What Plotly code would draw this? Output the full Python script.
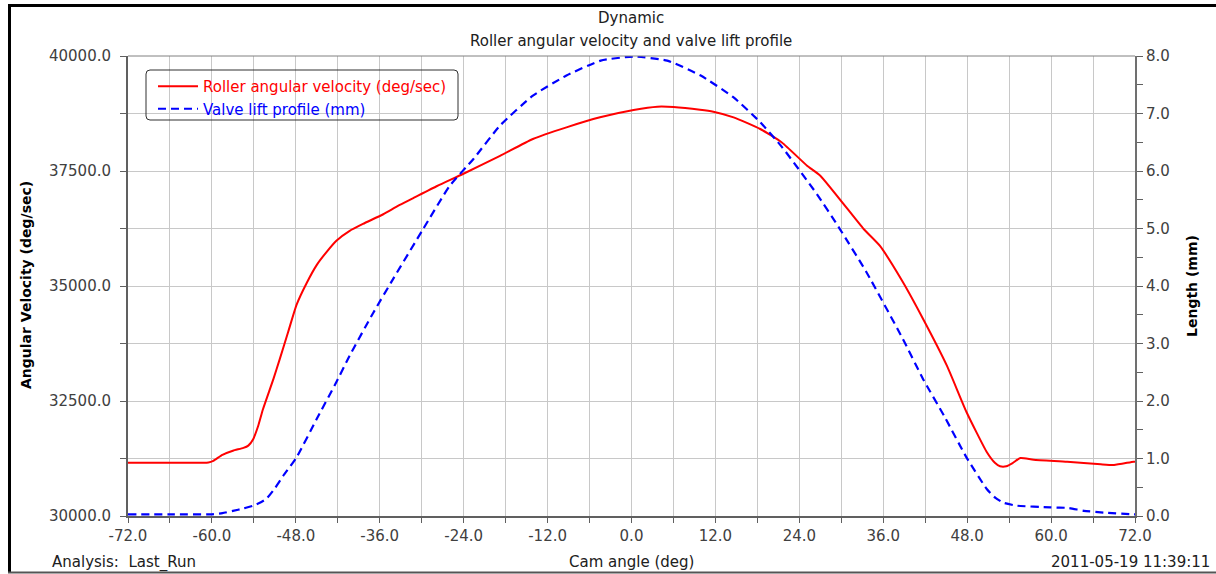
import plotly.graph_objects as go

# Roller angular velocity (deg/sec) against cam angle (deg)
red_angle = [-72.0, -66.0, -60.5, -59.8, -58.5, -57.0, -55.5, -54.8, -54.1, -53.4,
             -52.7, -51.2, -50.3, -49.1, -47.9, -46.5, -45.0, -43.5, -42.2, -40.3,
             -38.4, -35.5, -33.4, -31.2, -27.8, -24.1, -18.8, -14.1, -9.3, -4.5,
             0.3, 3.7, 6.0, 9.8, 11.7, 14.6, 18.4, 21.5, 25.1, 27.0,
             33.2, 35.5, 38.8, 41.7, 45.1, 47.9, 50.8, 52.0, 52.7, 53.6,
             54.5, 55.6, 57.5, 62.3, 67.1, 69.0, 71.8, 72.0]
red_velocity = [31160, 31160, 31165, 31200, 31330, 31420, 31480, 31530, 31670, 31950,
                32320, 32980, 33410, 34000, 34590, 35050, 35460, 35760, 35985, 36200,
                36350, 36560, 36740, 36910, 37174, 37435, 37830, 38196, 38449, 38667,
                38826, 38898, 38891, 38833, 38790, 38667, 38413, 38120, 37616, 37398,
                36239, 35876, 35087, 34283, 33268, 32261, 31391, 31150, 31080, 31080,
                31150, 31261, 31224, 31181, 31124, 31110, 31181, 31180]

# Valve lift profile (mm) against cam angle (deg)
lift_angle = [-72.0, -66.0, -60.0, -58.5, -57.0, -55.5, -54.1, -53.0, -52.2, -51.0,
              -49.8, -47.9, -45.0, -42.2, -40.3, -36.9, -34.1, -29.8, -26.0, -22.6,
              -18.8, -14.1, -9.3, -4.4, 0.3, 5.1, 9.9, 14.6, 18.4, 21.5,
              26.5, 29.8, 33.6, 38.8, 41.7, 44.8, 47.9, 50.8, 52.0, 53.2,
              55.1, 59.9, 62.5, 64.7, 67.5, 71.8, 72.0]
lift_mm = [0.03, 0.03, 0.03, 0.05, 0.09, 0.13, 0.18, 0.24, 0.30, 0.48,
           0.70, 1.02, 1.69, 2.33, 2.79, 3.54, 4.12, 4.99, 5.74, 6.21,
           6.79, 7.31, 7.66, 7.92, 7.99, 7.92, 7.66, 7.28, 6.85, 6.42,
           5.60, 4.99, 4.24, 3.08, 2.38, 1.72, 1.02, 0.47, 0.32, 0.23,
           0.18, 0.15, 0.14, 0.09, 0.06, 0.03, 0.03]

# Axis ticks: every step gets a tick and grid line, every other one a label
x_ticks = [-72 + 6 * i for i in range(25)]
x_labels = [f"{v:.1f}" if v % 12 == 0 else "" for v in x_ticks]
y_ticks = [30000 + 1250 * i for i in range(9)]
y_labels = [f"{v:.1f}" if v % 2500 == 0 else "" for v in y_ticks]
y2_ticks = [0.5 * i for i in range(17)]
y2_labels = [f"{v:.1f}" if v == int(v) else "" for v in y2_ticks]

W, H = 1216, 574
L, R, T, B = 128, 1135, 56, 516
FONT = "DejaVu Sans, Liberation Sans, Arial, sans-serif"


def px(x):
    return (x - L) / (R - L)


def py(y):
    return (B - y) / (B - T)


fig = go.Figure()
fig.add_trace(go.Scatter(
    x=red_angle, y=red_velocity, mode="lines",
    name="<span style='color:#ff0000'>Roller angular velocity (deg/sec)</span>",
    line=dict(color="#ff0000", width=2, shape="spline", smoothing=0.5),
))
fig.add_trace(go.Scatter(
    x=lift_angle, y=lift_mm, mode="lines", yaxis="y2",
    name="<span style='color:#0000ff'>Valve lift profile (mm)</span>",
    line=dict(color="#0000ff", width=2.2, dash="8px,5px", shape="spline", smoothing=0.5),
))

tick_font = dict(family=FONT, size=15, color="#404040")
fig.update_layout(
    width=W, height=H,
    margin=dict(l=L, r=W - R, t=T, b=H - B),
    paper_bgcolor="white", plot_bgcolor="white",
    showlegend=True,
    legend=dict(x=px(153), y=py(70), xanchor="left", yanchor="top",
                bgcolor="rgba(0,0,0,0)", borderwidth=0, itemwidth=40,
                font=dict(family=FONT, size=15), tracegroupgap=0),
    xaxis=dict(range=[-72, 72], tickvals=x_ticks, ticktext=x_labels,
               showgrid=True, gridcolor="#c8c8c8", gridwidth=1,
               ticks="outside", ticklen=5, tickcolor="#606060", tickwidth=1,
               showline=True, linecolor="#606060", linewidth=2,
               zeroline=False, tickfont=tick_font),
    yaxis=dict(range=[30000, 40000], tickvals=y_ticks, ticktext=y_labels,
               showgrid=True, gridcolor="#c8c8c8", gridwidth=1,
               ticks="outside", ticklen=6, tickcolor="#606060", tickwidth=1,
               showline=True, linecolor="#606060", linewidth=2,
               zeroline=False, tickfont=tick_font, ticklabelstandoff=6),
    yaxis2=dict(range=[0, 8], overlaying="y", side="right",
                tickvals=y2_ticks, ticktext=y2_labels, showgrid=False,
                ticks="outside", ticklen=6, tickcolor="#606060", tickwidth=1,
                showline=True, linecolor="#707070", linewidth=2,
                zeroline=False, tickfont=tick_font),
)


def rounded_rect(x0, y0, x1, y1, r):
    # pixel rectangle with rounded corners, expressed as a paper-space path
    pts = []
    pts.append(f"M {px(x0 + r)} {py(y0)}")
    pts.append(f"L {px(x1 - r)} {py(y0)}")
    pts.append(f"Q {px(x1)} {py(y0)} {px(x1)} {py(y0 + r)}")
    pts.append(f"L {px(x1)} {py(y1 - r)}")
    pts.append(f"Q {px(x1)} {py(y1)} {px(x1 - r)} {py(y1)}")
    pts.append(f"L {px(x0 + r)} {py(y1)}")
    pts.append(f"Q {px(x0)} {py(y1)} {px(x0)} {py(y1 - r)}")
    pts.append(f"L {px(x0)} {py(y0 + r)}")
    pts.append(f"Q {px(x0)} {py(y0)} {px(x0 + r)} {py(y0)} Z")
    return " ".join(pts)


shapes = [
    # top edge of the plot area
    dict(type="line", xref="paper", yref="paper", x0=0, x1=1, y0=1, y1=1,
         line=dict(color="#808080", width=1)),
    # legend box
    dict(type="path", xref="paper", yref="paper",
         path=rounded_rect(146, 70, 458, 120, 4),
         line=dict(color="#303030", width=1), fillcolor="rgba(0,0,0,0)"),
    # outer frame
    dict(type="line", xref="paper", yref="paper", x0=px(8), x1=px(1216),
         y0=py(5.5), y1=py(5.5), line=dict(color="#000000", width=3)),
    dict(type="line", xref="paper", yref="paper", x0=px(9.5), x1=px(9.5),
         y0=py(5), y1=py(573), line=dict(color="#000000", width=3)),
    dict(type="line", xref="paper", yref="paper", x0=px(8), x1=px(1216),
         y0=py(572.5), y1=py(572.5), line=dict(color="#555555", width=2)),
]
fig.update_layout(shapes=shapes)

text_font = dict(family=FONT, size=15, color="#202020")
annotations = [
    dict(text="Dynamic", x=px(631), y=py(18)),
    dict(text="Roller angular velocity and valve lift profile", x=px(631), y=py(41)),
    dict(text="Cam angle (deg)", x=px(631), y=py(562)),
    dict(text="Analysis:&nbsp; Last_Run", x=px(50), y=py(562), xanchor="left"),
    dict(text="2011-05-19 11:39:11", x=px(1212), y=py(562), xanchor="right"),
    dict(text="<b>Angular Velocity (deg/sec)</b>", x=px(26), y=py(285), textangle=-90,
         font=dict(family=FONT, size=14, color="#000000")),
    dict(text="<b>Length (mm)</b>", x=px(1192), y=py(286), textangle=-90,
         font=dict(family=FONT, size=14, color="#000000")),
]
for a in annotations:
    a.setdefault("xanchor", "center")
    a.setdefault("font", text_font)
    a.update(xref="paper", yref="paper", yanchor="middle", showarrow=False)
fig.update_layout(annotations=annotations)

fig.write_html("out.html")
